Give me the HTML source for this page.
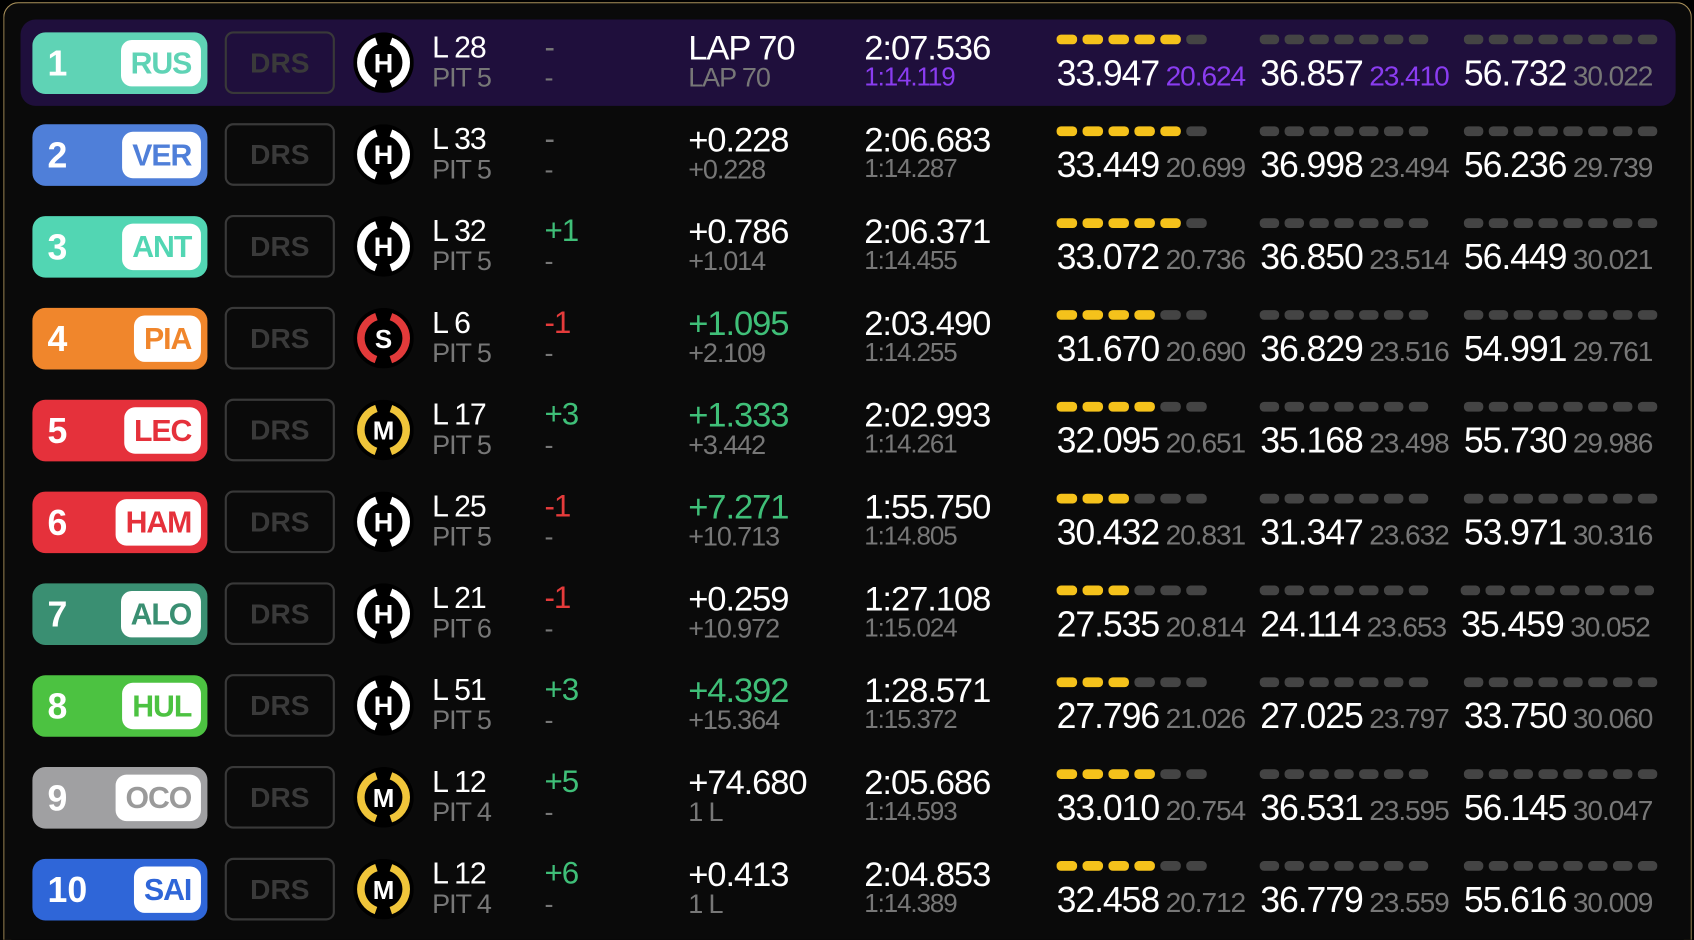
<!DOCTYPE html>
<html><head><meta charset="utf-8"><style>
*{margin:0;padding:0;box-sizing:border-box}
html,body{width:1694px;height:940px;background:#000;overflow:hidden;font-family:"Liberation Sans",sans-serif}
#clip{position:absolute;left:0;top:0;width:1694px;height:940px;overflow:hidden}
#w{position:absolute;left:0;top:0;width:1568px;height:870px;overflow:hidden;transform:scale(1.08036);transform-origin:0 0}
.frame{position:absolute;left:3px;top:2px;width:1563px;height:868px;border:1.5px solid #a8905a;border-bottom:none;border-radius:14px 14px 0 0;background:#0a0a0a}
.hl{position:absolute;left:19px;top:18px;width:1532px;height:80px;border-radius:14px;background:#1f0f3c}
.row{position:absolute;left:0;width:1568px;height:85px}
.badge{position:absolute;left:30px;top:1px;width:162px;height:57px;border-radius:12px}
.num{position:absolute;left:14px;top:10px;font-size:33px;font-weight:bold;color:#fff}
.code{position:absolute;right:6px;top:7px;height:43px;padding:0 9px;background:#fff;border-radius:10px;font-size:28px;font-weight:bold;line-height:43px;letter-spacing:-1px}
.drs{position:absolute;left:208px;top:0;width:102px;height:58px;border:2px solid #393939;border-radius:8px;color:#3a3a3a;font-size:26px;font-weight:bold;text-align:center;line-height:54px}
.tyre{position:absolute;left:327px;top:1px}
.lap{position:absolute;left:400px;top:0px;font-size:28px;color:#fff;letter-spacing:-1px;line-height:30px}
.sub{color:#777;font-size:25px;line-height:26px}
.chg{position:absolute;left:504px;top:0px;font-size:29px;line-height:30px;letter-spacing:-1px}
.gap{position:absolute;left:637px;top:0px;font-size:32px;color:#fff;line-height:30px;letter-spacing:-1px}
.lt{position:absolute;left:800px;top:0px;font-size:32px;color:#fff;line-height:30px;letter-spacing:-1px}
.lt .sub{font-size:24px}
.sec{position:absolute;left:978px;top:3px;display:flex;gap:14px}
.s{display:flex;flex-direction:column}
.bars{display:flex;gap:5px;height:9px;margin-bottom:8px}
.bars i{display:block;width:19px;height:9px;border-radius:4px;background:#444}
.s+.s .bars i{width:18px}
.bars i.y{background:#f5c21b}
.st{white-space:nowrap;letter-spacing:-1px}
.st b{font-weight:normal;font-size:33px;color:#fff}
.st span{font-size:26px;color:#777;margin-left:6px}
.g{color:#3fbf78}.r{color:#e53b3b}.p{color:#8a3cf0!important}
</style></head><body><div id="clip"><div id="w">
<div class="frame"></div>
<div class="hl"></div>

<svg width="0" height="0" style="position:absolute"><defs>
<g id="tH"><circle cx="28" cy="28" r="28" fill="#000"/><circle cx="28" cy="28" r="21" fill="none" stroke="#fff" stroke-width="7" stroke-dasharray="52 14" stroke-dashoffset="-7" transform="rotate(-90 28 28)"/><text x="28" y="37" text-anchor="middle" font-family="Liberation Sans" font-weight="bold" font-size="25" fill="#fff">H</text></g>
<g id="tM"><circle cx="28" cy="28" r="28" fill="#000"/><circle cx="28" cy="28" r="21" fill="none" stroke="#f0c53a" stroke-width="7" stroke-dasharray="52 14" stroke-dashoffset="-7" transform="rotate(-90 28 28)"/><text x="28" y="37" text-anchor="middle" font-family="Liberation Sans" font-weight="bold" font-size="24" fill="#fff">M</text></g>
<g id="tS"><circle cx="28" cy="28" r="28" fill="#000"/><circle cx="28" cy="28" r="21" fill="none" stroke="#e23a3a" stroke-width="7" stroke-dasharray="52 14" stroke-dashoffset="-7" transform="rotate(-90 28 28)"/><text x="28" y="37" text-anchor="middle" font-family="Liberation Sans" font-weight="bold" font-size="24" fill="#fff">S</text></g>
</defs></svg>

<div class="row" style="top:29px">
<div class="badge" style="background:#5fd3b5"><div class="num">1</div><div class="code" style="color:#5fd3b5">RUS</div></div>
<div class="drs">DRS</div><svg class="tyre" width="56" height="56"><use href="#tH"/></svg>
<div class="lap">L 28<div class="sub">PIT 5</div></div>
<div class="chg" style="color:#777">-<div class="sub">-</div></div>
<div class="gap">LAP 70<div class="sub">LAP 70</div></div>
<div class="lt">2:07.536<div class="sub p">1:14.119</div></div>
<div class="sec"><div class="s"><div class="bars"><i class="y"></i><i class="y"></i><i class="y"></i><i class="y"></i><i class="y"></i><i></i></div><div class="st"><b>33.947</b><span class="p">20.624</span></div></div>
<div class="s"><div class="bars"><i></i><i></i><i></i><i></i><i></i><i></i><i></i></div><div class="st"><b>36.857</b><span class="p">23.410</span></div></div>
<div class="s"><div class="bars"><i></i><i></i><i></i><i></i><i></i><i></i><i></i><i></i></div><div class="st"><b>56.732</b><span>30.022</span></div></div></div>
</div>

<div class="row" style="top:114px">
<div class="badge" style="background:#4f7fd9"><div class="num">2</div><div class="code" style="color:#4f7fd9">VER</div></div>
<div class="drs">DRS</div><svg class="tyre" width="56" height="56"><use href="#tH"/></svg>
<div class="lap">L 33<div class="sub">PIT 5</div></div>
<div class="chg" style="color:#777">-<div class="sub">-</div></div>
<div class="gap">+0.228<div class="sub">+0.228</div></div>
<div class="lt">2:06.683<div class="sub">1:14.287</div></div>
<div class="sec"><div class="s"><div class="bars"><i class="y"></i><i class="y"></i><i class="y"></i><i class="y"></i><i class="y"></i><i></i></div><div class="st"><b>33.449</b><span>20.699</span></div></div>
<div class="s"><div class="bars"><i></i><i></i><i></i><i></i><i></i><i></i><i></i></div><div class="st"><b>36.998</b><span>23.494</span></div></div>
<div class="s"><div class="bars"><i></i><i></i><i></i><i></i><i></i><i></i><i></i><i></i></div><div class="st"><b>56.236</b><span>29.739</span></div></div></div>
</div>

<div class="row" style="top:199px">
<div class="badge" style="background:#52d6b3"><div class="num">3</div><div class="code" style="color:#52d6b3">ANT</div></div>
<div class="drs">DRS</div><svg class="tyre" width="56" height="56"><use href="#tH"/></svg>
<div class="lap">L 32<div class="sub">PIT 5</div></div>
<div class="chg g">+1<div class="sub">-</div></div>
<div class="gap">+0.786<div class="sub">+1.014</div></div>
<div class="lt">2:06.371<div class="sub">1:14.455</div></div>
<div class="sec"><div class="s"><div class="bars"><i class="y"></i><i class="y"></i><i class="y"></i><i class="y"></i><i class="y"></i><i></i></div><div class="st"><b>33.072</b><span>20.736</span></div></div>
<div class="s"><div class="bars"><i></i><i></i><i></i><i></i><i></i><i></i><i></i></div><div class="st"><b>36.850</b><span>23.514</span></div></div>
<div class="s"><div class="bars"><i></i><i></i><i></i><i></i><i></i><i></i><i></i><i></i></div><div class="st"><b>56.449</b><span>30.021</span></div></div></div>
</div>

<div class="row" style="top:284px">
<div class="badge" style="background:#f0862c"><div class="num">4</div><div class="code" style="color:#f0862c">PIA</div></div>
<div class="drs">DRS</div><svg class="tyre" width="56" height="56"><use href="#tS"/></svg>
<div class="lap">L 6<div class="sub">PIT 5</div></div>
<div class="chg r">-1<div class="sub">-</div></div>
<div class="gap g">+1.095<div class="sub">+2.109</div></div>
<div class="lt">2:03.490<div class="sub">1:14.255</div></div>
<div class="sec"><div class="s"><div class="bars"><i class="y"></i><i class="y"></i><i class="y"></i><i class="y"></i><i></i><i></i></div><div class="st"><b>31.670</b><span>20.690</span></div></div>
<div class="s"><div class="bars"><i></i><i></i><i></i><i></i><i></i><i></i><i></i></div><div class="st"><b>36.829</b><span>23.516</span></div></div>
<div class="s"><div class="bars"><i></i><i></i><i></i><i></i><i></i><i></i><i></i><i></i></div><div class="st"><b>54.991</b><span>29.761</span></div></div></div>
</div>

<div class="row" style="top:369px">
<div class="badge" style="background:#e5313b"><div class="num">5</div><div class="code" style="color:#e5313b">LEC</div></div>
<div class="drs">DRS</div><svg class="tyre" width="56" height="56"><use href="#tM"/></svg>
<div class="lap">L 17<div class="sub">PIT 5</div></div>
<div class="chg g">+3<div class="sub">-</div></div>
<div class="gap g">+1.333<div class="sub">+3.442</div></div>
<div class="lt">2:02.993<div class="sub">1:14.261</div></div>
<div class="sec"><div class="s"><div class="bars"><i class="y"></i><i class="y"></i><i class="y"></i><i class="y"></i><i></i><i></i></div><div class="st"><b>32.095</b><span>20.651</span></div></div>
<div class="s"><div class="bars"><i></i><i></i><i></i><i></i><i></i><i></i><i></i></div><div class="st"><b>35.168</b><span>23.498</span></div></div>
<div class="s"><div class="bars"><i></i><i></i><i></i><i></i><i></i><i></i><i></i><i></i></div><div class="st"><b>55.730</b><span>29.986</span></div></div></div>
</div>

<div class="row" style="top:454px">
<div class="badge" style="background:#e5313b"><div class="num">6</div><div class="code" style="color:#e5313b">HAM</div></div>
<div class="drs">DRS</div><svg class="tyre" width="56" height="56"><use href="#tH"/></svg>
<div class="lap">L 25<div class="sub">PIT 5</div></div>
<div class="chg r">-1<div class="sub">-</div></div>
<div class="gap g">+7.271<div class="sub">+10.713</div></div>
<div class="lt">1:55.750<div class="sub">1:14.805</div></div>
<div class="sec"><div class="s"><div class="bars"><i class="y"></i><i class="y"></i><i class="y"></i><i></i><i></i><i></i></div><div class="st"><b>30.432</b><span>20.831</span></div></div>
<div class="s"><div class="bars"><i></i><i></i><i></i><i></i><i></i><i></i><i></i></div><div class="st"><b>31.347</b><span>23.632</span></div></div>
<div class="s"><div class="bars"><i></i><i></i><i></i><i></i><i></i><i></i><i></i><i></i></div><div class="st"><b>53.971</b><span>30.316</span></div></div></div>
</div>

<div class="row" style="top:539px">
<div class="badge" style="background:#3a8f72"><div class="num">7</div><div class="code" style="color:#3a8f72">ALO</div></div>
<div class="drs">DRS</div><svg class="tyre" width="56" height="56"><use href="#tH"/></svg>
<div class="lap">L 21<div class="sub">PIT 6</div></div>
<div class="chg r">-1<div class="sub">-</div></div>
<div class="gap">+0.259<div class="sub">+10.972</div></div>
<div class="lt">1:27.108<div class="sub">1:15.024</div></div>
<div class="sec"><div class="s"><div class="bars"><i class="y"></i><i class="y"></i><i class="y"></i><i></i><i></i><i></i></div><div class="st"><b>27.535</b><span>20.814</span></div></div>
<div class="s"><div class="bars"><i></i><i></i><i></i><i></i><i></i><i></i><i></i></div><div class="st"><b>24.114</b><span>23.653</span></div></div>
<div class="s"><div class="bars"><i></i><i></i><i></i><i></i><i></i><i></i><i></i><i></i></div><div class="st"><b>35.459</b><span>30.052</span></div></div></div>
</div>

<div class="row" style="top:624px">
<div class="badge" style="background:#4cc241"><div class="num">8</div><div class="code" style="color:#4cc241">HUL</div></div>
<div class="drs">DRS</div><svg class="tyre" width="56" height="56"><use href="#tH"/></svg>
<div class="lap">L 51<div class="sub">PIT 5</div></div>
<div class="chg g">+3<div class="sub">-</div></div>
<div class="gap g">+4.392<div class="sub">+15.364</div></div>
<div class="lt">1:28.571<div class="sub">1:15.372</div></div>
<div class="sec"><div class="s"><div class="bars"><i class="y"></i><i class="y"></i><i class="y"></i><i></i><i></i><i></i></div><div class="st"><b>27.796</b><span>21.026</span></div></div>
<div class="s"><div class="bars"><i></i><i></i><i></i><i></i><i></i><i></i><i></i></div><div class="st"><b>27.025</b><span>23.797</span></div></div>
<div class="s"><div class="bars"><i></i><i></i><i></i><i></i><i></i><i></i><i></i><i></i></div><div class="st"><b>33.750</b><span>30.060</span></div></div></div>
</div>

<div class="row" style="top:709px">
<div class="badge" style="background:#a0a0a2"><div class="num">9</div><div class="code" style="color:#9a9a9a">OCO</div></div>
<div class="drs">DRS</div><svg class="tyre" width="56" height="56"><use href="#tM"/></svg>
<div class="lap">L 12<div class="sub">PIT 4</div></div>
<div class="chg g">+5<div class="sub">-</div></div>
<div class="gap">+74.680<div class="sub">1 L</div></div>
<div class="lt">2:05.686<div class="sub">1:14.593</div></div>
<div class="sec"><div class="s"><div class="bars"><i class="y"></i><i class="y"></i><i class="y"></i><i class="y"></i><i></i><i></i></div><div class="st"><b>33.010</b><span>20.754</span></div></div>
<div class="s"><div class="bars"><i></i><i></i><i></i><i></i><i></i><i></i><i></i></div><div class="st"><b>36.531</b><span>23.595</span></div></div>
<div class="s"><div class="bars"><i></i><i></i><i></i><i></i><i></i><i></i><i></i><i></i></div><div class="st"><b>56.145</b><span>30.047</span></div></div></div>
</div>

<div class="row" style="top:794px">
<div class="badge" style="background:#2f66d8"><div class="num">10</div><div class="code" style="color:#2f66d8">SAI</div></div>
<div class="drs">DRS</div><svg class="tyre" width="56" height="56"><use href="#tM"/></svg>
<div class="lap">L 12<div class="sub">PIT 4</div></div>
<div class="chg g">+6<div class="sub">-</div></div>
<div class="gap">+0.413<div class="sub">1 L</div></div>
<div class="lt">2:04.853<div class="sub">1:14.389</div></div>
<div class="sec"><div class="s"><div class="bars"><i class="y"></i><i class="y"></i><i class="y"></i><i class="y"></i><i></i><i></i></div><div class="st"><b>32.458</b><span>20.712</span></div></div>
<div class="s"><div class="bars"><i></i><i></i><i></i><i></i><i></i><i></i><i></i></div><div class="st"><b>36.779</b><span>23.559</span></div></div>
<div class="s"><div class="bars"><i></i><i></i><i></i><i></i><i></i><i></i><i></i><i></i></div><div class="st"><b>55.616</b><span>30.009</span></div></div></div>
</div>

</div></div></body></html>
